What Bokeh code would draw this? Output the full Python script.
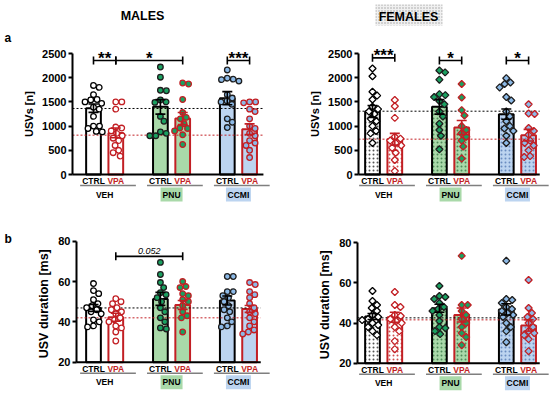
from bokeh.plotting import figure
from bokeh.models import Range1d, FixedTicker
from bokeh.layouts import column, row
from bokeh.core.properties import value
from bokeh.embed import file_html
from bokeh.resources import INLINE
import numpy as np

# ---------------- data ----------------
groups = ["VEH", "PNU", "CCMI"]
conds = ["CTRL", "VPA"]

# order: VEH CTRL, VEH VPA, PNU CTRL, PNU VPA, CCMI CTRL, CCMI VPA
m_usv_mean = [1370, 860, 1398, 1157, 1577, 937]
m_usv_sem = [86, 100, 150, 125, 135, 110]
m_usv_pts = [
    [1800, 1840, 1650, 1550, 1540, 1500, 1470, 1390, 1350, 1200, 1000, 1000, 950, 880, 890],
    [1500, 1500, 1350, 980, 960, 900, 850, 800, 750, 700, 600, 500, 450, 380],
    [2220, 2010, 1730, 1740, 1540, 1500, 1490, 1200, 1100, 880, 850, 800, 800],
    [1870, 1890, 1550, 1280, 1180, 1150, 1050, 960, 950, 900, 820, 620],
    [2160, 1990, 1970, 1960, 1930, 1650, 1580, 1520, 1500, 1450, 1150, 1080, 970],
    [1500, 1500, 1480, 1350, 1300, 1150, 1000, 950, 850, 800, 700, 650, 600, 500, 350],
]
m_usv_refs = [1364, 813]
m_usv_brackets = [(0, 1, "**", 2355), (1, 3, "*", 2355), (4, 5, "***", 2355)]

f_usv_mean = [1302, 730, 1398, 971, 1247, 813]
f_usv_sem = [125, 120, 150, 145, 105, 120]
f_usv_pts = [
    [2190, 2030, 1710, 1630, 1550, 1400, 1350, 1300, 1250, 1150, 1100, 1000, 900, 850, 650],
    [1540, 1410, 1170, 780, 740, 700, 650, 600, 550, 450, 300, 70],
    [2110, 2150, 1960, 1660, 1640, 1600, 1520, 1450, 1300, 1200, 1050, 920, 800, 520],
    [1870, 1590, 1330, 1220, 1000, 920, 850, 780, 700, 580, 330],
    [1990, 1900, 1870, 1800, 1600, 1530, 1300, 1200, 1100, 1000, 950, 900, 800, 650],
    [1450, 1260, 1250, 960, 900, 820, 700, 650, 600, 500, 380, 360],
]
f_usv_refs = [1308, 730]
f_usv_brackets = [(0, 1, "***", 2410), (2, 3, "*", 2355), (4, 5, "*", 2355)]

m_dur_mean = [46.9, 42.3, 51.4, 48.4, 50.6, 46.4]
m_dur_sem = [1.7, 2.0, 3.2, 2.2, 2.2, 1.7]
m_dur_pts = [
    [59, 55.5, 54, 51, 49, 48, 47, 46, 45, 44, 41, 40, 38, 37.5],
    [51.5, 50, 49, 47, 46, 45, 44, 42, 41, 40, 38, 37, 35, 30.5],
    [69.5, 63.5, 59.5, 57, 54.5, 53.5, 52, 50, 47, 45, 42, 40, 37, 36.5],
    [60, 57.5, 57, 54, 53, 51, 50, 48, 45, 43, 42, 35],
    [62.5, 62.5, 55, 55, 53, 52, 50, 48, 46, 45, 42, 40, 38, 37.5],
    [59.5, 58.5, 55, 53.5, 52, 49, 47, 45, 44, 42, 40, 38, 36, 35, 34],
]
m_dur_refs = [46.9, 42.0]
m_dur_brackets = [(1, 3, "0.052", 72.5)]

f_dur_mean = [43.3, 42.9, 47.4, 44.0, 46.8, 38.8]
f_dur_sem = [1.5, 2.5, 2.0, 3.5, 2.8, 2.8]
f_dur_pts = [
    [56, 51, 49, 47.5, 46, 44, 43, 42, 41.5, 40, 39, 38, 36, 34],
    [55.5, 49, 48, 44, 43.5, 42, 41, 40, 38, 36, 31, 27],
    [58.5, 53.5, 53, 52, 50, 48, 47, 46, 44, 41, 38, 37.5, 36, 34.5],
    [73.5, 49, 49, 46, 44, 42, 40, 38, 35, 33, 29],
    [71, 52, 51.5, 50, 48, 47, 46, 45, 44, 43, 40, 38, 36, 30.5],
    [61.5, 47.5, 45, 43, 42, 40, 38, 36, 35, 34, 32, 26],
]
f_dur_refs = [42.6, 41.6]
f_dur_brackets = []

# ---------------- styles ----------------
FONT = value("Liberation Sans")
RED = "#c21f24"
GREEN_BAR = "#a9d9a9"
BLUE_BAR = "#bcd4f0"
GREEN_PT = "#1aa060"
BLUE_PT = "#8cb9e6"
DARK = "#1e1e1e"
XPOS = [0, 1, 3, 4, 6, 7]
PX = 22.3  # px per x unit

bar_fill = ["white", "white", GREEN_BAR, GREEN_BAR, BLUE_BAR, BLUE_BAR]
bar_line = ["black", RED, "black", RED, "black", RED]
pt_fill = ["white", "white", GREEN_PT, GREEN_PT, BLUE_PT, BLUE_PT]
pt_line = ["black", RED, DARK, RED, DARK, RED]
hatch_cols = ["#555555", "#d05050", "#4e8a5a", "#4e8a5a", "#6a8cc0", "#6a8cc0"]


def swarm(vals, ppy, diam):
    ys = [v * ppy for v in vals]
    order = sorted(range(len(vals)), key=lambda i: -vals[i])
    placed = []
    offs = [0.0] * len(vals)
    for i in order:
        y = ys[i]
        cands = [0.0]
        for (qx, qy) in placed:
            dy = abs(y - qy)
            if dy < diam:
                dx = (diam ** 2 - dy ** 2) ** 0.5
                cands += [qx + dx, qx - dx]
        cands.sort(key=lambda c: (abs(c), -c))
        for c in cands:
            if all((c - qx) ** 2 + (y - qy) ** 2 >= diam ** 2 - 1e-6 for qx, qy in placed):
                offs[i] = c
                break
        placed.append((offs[i], y))
    return [o / PX for o in offs]


def panel(W, H, axl, x0, ya, pa, yb, pb, means, sems, pts, refs, brackets,
          ylabel, yticks, female, line_end, label_fs):
    # axl: local px of y axis line; x0: local px of x=0; value ya at local pa, yb at local pb
    ppy = (pb - pa) / (ya - yb)
    xs = -x0 / PX
    xe = xs + W / PX
    ye = ya + pa / ppy
    ys = yb - (H - pb) / ppy

    def X(lx):
        return xs + lx / PX

    def Y(ly):
        return ye - ly / ppy

    def dy(px):
        return px / ppy

    p = figure(width=W, height=H, x_range=Range1d(xs, xe), y_range=Range1d(ys, ye),
               output_backend="svg", toolbar_location=None, min_border=0)
    p.outline_line_color = None
    p.xgrid.visible = False
    p.ygrid.visible = False
    p.xaxis.visible = False
    ax = p.yaxis[0]
    ax.fixed_location = X(axl)
    ax.bounds = (yb, ya)
    ax.ticker = FixedTicker(ticks=yticks)
    ax.axis_line_width = 2
    ax.major_tick_line_width = 2
    ax.major_tick_out = 4
    ax.major_tick_in = 0
    ax.minor_tick_line_color = None
    ax.major_label_standoff = 2
    ax.major_label_text_font = "Liberation Sans"
    ax.major_label_text_font_style = "bold"
    ax.major_label_text_font_size = "11px"
    ax.major_label_text_color = "black"
    ax.axis_label = ylabel
    ax.axis_label_text_font = "Liberation Sans"
    ax.axis_label_text_font_style = "bold"
    ax.axis_label_text_font_size = label_fs
    ax.axis_label_text_color = "black"
    ax.axis_label_standoff = 4

    base = yb
    xa0 = X(axl)
    # bars
    kw = dict(x=XPOS, top=means, bottom=base, width=0.66, fill_color=bar_fill,
              line_color=bar_line, line_width=2)
    if female:
        kw.update(hatch_pattern="dot", hatch_color=hatch_cols, hatch_scale=4, hatch_weight=1)
    p.vbar(**kw)

    # reference lines
    p.segment(x0=[xa0, xa0], x1=[line_end, line_end], y0=refs, y1=refs,
              line_color=["black", RED], line_dash="2 2", line_width=1)

    # points
    for k in range(6):
        offs = swarm(pts[k], ppy, 6.0)
        xx = [XPOS[k] + o for o in offs]
        if female:
            p.scatter(xx, pts[k], marker="square", angle=np.pi / 4, size=5,
                      fill_color=pt_fill[k], line_color=pt_line[k], line_width=1.3)
        else:
            p.scatter(xx, pts[k], marker="circle", size=5.6,
                      fill_color=pt_fill[k], line_color=pt_line[k], line_width=1.3)

    # error bars
    lo = [m - s for m, s in zip(means, sems)]
    hi = [m + s for m, s in zip(means, sems)]
    cw = 5 / PX
    p.segment(x0=XPOS, x1=XPOS, y0=lo, y1=hi, line_color=bar_line, line_width=1.6)
    p.segment(x0=[x - cw for x in XPOS], x1=[x + cw for x in XPOS], y0=lo, y1=lo,
              line_color=bar_line, line_width=1.6)
    p.segment(x0=[x - cw for x in XPOS], x1=[x + cw for x in XPOS], y0=hi, y1=hi,
              line_color=bar_line, line_width=1.6)

    # baseline
    p.segment(x0=[xa0], x1=[line_end], y0=[base], y1=[base], line_color="black", line_width=2)

    # brackets
    for (a, b, txt, yv) in brackets:
        xa, xb = XPOS[a], XPOS[b]
        p.segment(x0=[xa, xa, xb], x1=[xb, xa, xb], y0=[yv, yv - dy(4), yv - dy(4)],
                  y1=[yv, yv + dy(4), yv + dy(4)], line_color="black", line_width=1.6)
        if txt.startswith("*"):
            p.text([(xa + xb) / 2], [yv + dy(2.5)], text=[txt], text_align="center",
                   text_baseline="alphabetic", text_font=FONT, text_font_style="bold",
                   text_font_size="17px", text_color="black")
        else:
            p.text([(xa + xb) / 2], [yv + dy(5)], text=[txt], text_align="center",
                   text_baseline="alphabetic", text_font=FONT, text_font_style="italic",
                   text_font_size="9px", text_color="black")

    # category labels
    p.text(XPOS, [base - dy(6.5)] * 6, text=conds * 3, text_align="center",
           text_baseline="middle", text_font=FONT, text_font_style="bold",
           text_font_size="8.5px", text_color=["black", RED] * 3)
    gx0 = [XPOS[2 * g] - 0.6 for g in range(3)]
    gx1 = [XPOS[2 * g + 1] + 0.9 for g in range(3)]
    p.segment(x0=gx0, x1=gx1, y0=[base - dy(11)] * 3, y1=[base - dy(11)] * 3,
              line_color="#7f7f7f", line_width=1.5)
    gc = [(XPOS[2 * g] + XPOS[2 * g + 1]) / 2 for g in range(3)]
    p.quad(left=[gc[1] - 11 / PX, gc[2] - 12.5 / PX], right=[gc[1] + 11 / PX, gc[2] + 12.5 / PX],
           top=[base - dy(13)] * 2, bottom=[base - dy(27)] * 2,
           fill_color=[GREEN_BAR, BLUE_BAR], line_color=None)
    p.text(gc, [base - dy(20)] * 3, text=groups, text_align="center",
           text_baseline="middle", text_font=FONT, text_font_style="bold",
           text_font_size="8.5px", text_color="black")
    return p, X, Y


p1, X1, Y1 = panel(275, 205, 72, 93, 2500, 53, 0, 174, m_usv_mean, m_usv_sem, m_usv_pts,
                   m_usv_refs, m_usv_brackets, "USVs [n]", [0, 500, 1000, 1500, 2000, 2500],
                   False, 7.62, "11px")
p2, X2, Y2 = panel(275, 205, 83, 97, 2500, 53, 0, 174, f_usv_mean, f_usv_sem, f_usv_pts,
                   f_usv_refs, f_usv_brackets, "USVs [n]", [0, 500, 1000, 1500, 2000, 2500],
                   True, 7.5, "11px")
p3, X3, Y3 = panel(275, 191, 76, 93, 80, 35.7, 20, 156.7, m_dur_mean, m_dur_sem, m_dur_pts,
                   m_dur_refs, m_dur_brackets, "USV duration  [ms]", [20, 40, 60, 80],
                   False, 7.5, "12.5px")
p4, X4, Y4 = panel(275, 191, 82, 97, 80, 37.3, 20, 157.7, f_dur_mean, f_dur_sem, f_dur_pts,
                   f_dur_refs, f_dur_brackets, "USV duration  [ms]", [20, 40, 60, 80],
                   True, 7.5, "12.5px")

# titles
p1.text([X1(142)], [Y1(15)], text=["MALES"], text_align="center", text_baseline="middle",
        text_font=FONT, text_font_style="bold", text_font_size="12.5px", text_color="black")
p2.quad(left=[X2(100)], right=[X2(167)], top=[Y2(4)], bottom=[Y2(25)],
        fill_color="#f0f0f0", hatch_pattern="dot", hatch_color="#a0a0a0", hatch_scale=3,
        line_color=None)
p2.text([X2(133)], [Y2(16)], text=["FEMALES"], text_align="center", text_baseline="middle",
        text_font=FONT, text_font_style="bold", text_font_size="12.5px", text_color="black")

# panel letters
p1.text([X1(4)], [Y1(37)], text=["a"], text_align="left", text_baseline="middle",
        text_font=FONT, text_font_style="bold", text_font_size="12px", text_color="black")
p3.text([X3(4)], [Y3(33)], text=["b"], text_align="left", text_baseline="middle",
        text_font=FONT, text_font_style="bold", text_font_size="12px", text_color="black")

layout = column(row(p1, p2), row(p3, p4))
open("out.html", "w").write(file_html(layout, INLINE))
